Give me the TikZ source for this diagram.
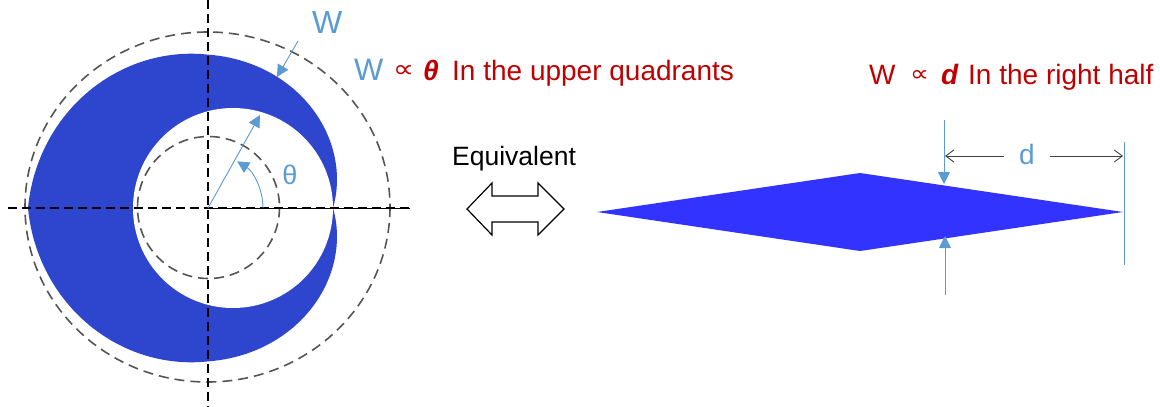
\documentclass[tikz,border=0pt]{standalone}
\usepackage{graphicx}
\usepackage{fontspec}
\setmainfont{Liberation Sans}
\newfontfamily\symfont{DejaVu Sans}
\usetikzlibrary{arrows.meta}
\definecolor{lblue}{RGB}{91,155,213}
\definecolor{dred}{RGB}{192,0,0}
\definecolor{cres}{RGB}{46,70,205}
\definecolor{dia}{RGB}{51,51,255}
\definecolor{dgray}{RGB}{85,85,85}
\definecolor{agray}{RGB}{64,64,64}
\begin{document}
\begin{tikzpicture}[x=1pt,y=1pt,yscale=-1,
  txt/.style={inner sep=0pt, anchor=base west},
  prop/.style={inner sep=0pt, anchor=center, dred},
  bluearr/.style={lblue, line width=0.9pt, -{Triangle[length=12pt,width=12pt]}},
  dimarr/.style={agray, line width=0.9pt, -{Straight Barb[length=8pt,width=12pt]}},
  graydash/.style={dgray, line width=1.6pt, dash pattern=on 10pt off 6pt},
  axis/.style={black, line width=2pt, dash pattern=on 9pt off 5pt},
  declare function={rin(\t)=25*cos(\t)+sqrt(10000-625*sin(\t)^2);
    rout(\t)=ifthenelse(abs(\t)<=90, rin(\t)+0.6283*abs(\t), 153.37+0.2959*(abs(\t)-90));}]
\useasboundingbox (0,0) rectangle (1160,407);
% crescent
\fill[cres] plot[domain=-180:180, samples=361, variable=\t] ({208+rout(\t)*cos(\t)},{208+rout(\t)*sin(\t)}) -- cycle;
\fill[white] (233,208) circle[radius=100];
% dashed circles
\draw[graydash] (207.5,207) ellipse[x radius=182.5, y radius=175];
\draw[graydash] (208.5,207.5) circle[radius=71];
% axes
\coordinate (hl) at (8,208);
\coordinate (hr) at (410,208);
\coordinate (vt) at (208,0);
\coordinate (vb) at (208,407);
\coordinate (c) at (208,208);
\draw[axis] (hl) -- (hr);
\draw[axis] (vt) -- (vb);
\draw[black, line width=0.8pt] (c) -- (hr);
% radial arrow and angle
\coordinate (rt) at (260,115);
\draw[bluearr] (c) -- (rt);
\coordinate (a0) at (263,208);
\draw[bluearr] (a0) arc[start angle=0, end angle=-58, radius=55];
\node[lblue, font=\fontsize{27}{29}\selectfont, inner sep=0pt] (th) at (290,175) {θ};
% W arrow
\coordinate (ws) at (298,41);
\coordinate (we) at (277,77);
\draw[bluearr] (ws) -- (we);
\node[txt, lblue, font=\fontsize{32}{34}\selectfont] (wl) at (312,33) {W};
% upper quadrant text
\node[txt, lblue, font=\fontsize{31}{33}\selectfont] (w1) at (354,80) {W};
\node[prop] (p1) at (403.5,71) {\resizebox{21pt}{12pt}{\symfont ∝}};
\node[txt, dred, font=\fontsize{28}{30}\selectfont\bfseries\itshape] (t1) at (423,80) {θ};
\node[txt, dred, font=\fontsize{28}{30}\selectfont] (s1) at (452,80) {In the upper quadrants};
% equivalent
\node[txt, font=\fontsize{26.5}{28}\selectfont] (eq) at (452,165) {Equivalent};
\draw[line width=1.2pt, fill=white] (467,209) -- (492,183) -- (492,196) -- (538,196) -- (538,183) -- (564,209) -- (538,235) -- (538,222) -- (492,222) -- (492,235) -- cycle;
% diamond
\fill[dia] (597,212) -- (860,173) -- (1123,212) -- (860,251) -- cycle;
% right text
\node[txt, dred, font=\fontsize{28}{30}\selectfont] (w2) at (869,84) {W};
\node[prop] (p2) at (919.5,76) {\resizebox{19pt}{11pt}{\symfont ∝}};
\node[txt, dred, font=\fontsize{28}{30}\selectfont\bfseries\itshape] (d2) at (941,84) {d};
\node[txt, dred, font=\fontsize{28}{30}\selectfont] (s2) at (968,84) {In the right half};
% dimension
\coordinate (ua) at (944,120);
\coordinate (ub) at (944,184);
\coordinate (la) at (945,295);
\coordinate (lb) at (945,236);
\draw[bluearr] (ua) -- (ub);
\draw[bluearr] (la) -- (lb);
\coordinate (rv1) at (1124,142);
\coordinate (rv2) at (1124,265);
\draw[lblue, line width=0.9pt] (rv1) -- (rv2);
\node[lblue, font=\fontsize{28}{30}\selectfont, inner sep=0pt, anchor=base] (dl) at (1027,164) {d};
\coordinate (dla) at (1004,156);
\coordinate (dlb) at (945,156);
\coordinate (dra) at (1050,156);
\coordinate (drb) at (1123,156);
\draw[dimarr] (dla) -- (dlb);
\draw[dimarr] (dra) -- (drb);
\end{tikzpicture}
\end{document}
